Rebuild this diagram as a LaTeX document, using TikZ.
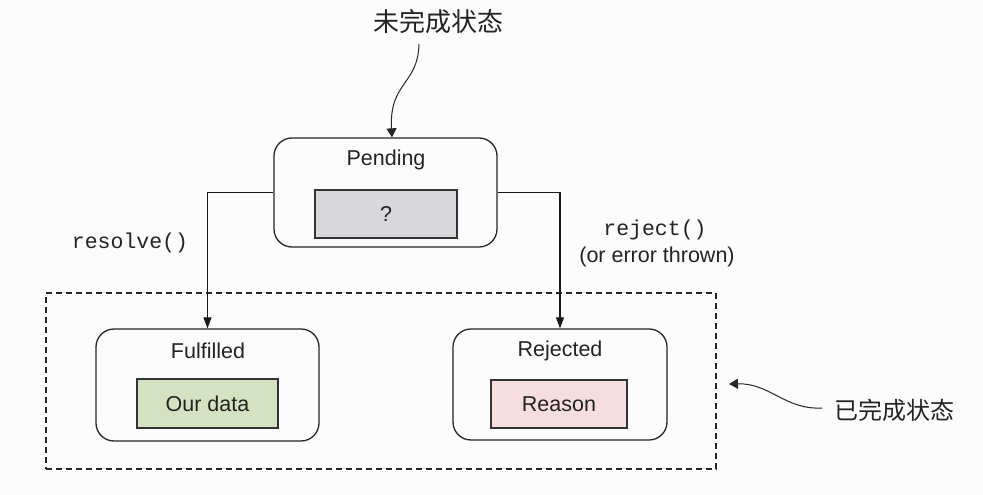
\documentclass[tikz,border=0pt]{standalone}
\usepackage{fontspec}
\setmainfont{Liberation Sans}
\setmonofont{Liberation Mono}
\newfontfamily\cjk{Noto Sans CJK SC}
\usetikzlibrary{arrows.meta}
\definecolor{bg}{RGB}{252,252,252}
\definecolor{txt}{RGB}{35,35,35}
\definecolor{grayfill}{RGB}{216,216,220}
\definecolor{greenfill}{RGB}{211,226,192}
\definecolor{pinkfill}{RGB}{246,222,222}
\tikzset{
  statebox/.style={draw=black!85, line width=1.3pt, rounded corners=18pt, inner sep=0pt},
  valbox/.style={draw=black!80, line width=1.3pt, inner sep=0pt, text=txt, font=\fontsize{21.5}{25}\selectfont},
  lbl/.style={text=txt, font=\fontsize{21.5}{25}\selectfont, inner sep=0pt},
  code/.style={text=txt, font=\ttfamily\fontsize{21.5}{25}\selectfont, inner sep=0pt},
  conn/.style={draw=black!90, line width=1.2pt, -{Triangle[length=11pt,width=8pt]}},
}
\begin{document}
\begin{tikzpicture}[x=1pt,y=-1pt]
\useasboundingbox[fill=bg] (0,0) rectangle (983,495);
% dashed settled region
\node[draw=black!85, line width=1.1pt, dash pattern=on 6pt off 4pt, minimum width=670pt, minimum height=176pt, inner sep=0pt] (settled) at (381,381) {};
% pending
\node[statebox, minimum width=223pt, minimum height=109pt] (pend) at (385.5,192.5) {};
\node[lbl] (pendl) at (386,160) {Pending};
\node[valbox, fill=grayfill, minimum width=142pt, minimum height=48pt] (pendv) at (386,214) {?};
% fulfilled
\node[statebox, minimum width=223pt, minimum height=112pt] (ful) at (207.5,385) {};
\node[lbl] (full) at (208,351) {Fulfilled};
\node[valbox, fill=greenfill, minimum width=141pt, minimum height=49pt] (fulv) at (207.5,403.5) {Our data};
% rejected
\node[statebox, minimum width=214pt, minimum height=111pt] (rej) at (560,384.5) {};
\node[lbl] (rejl) at (560,351) {Rejected};
\node[valbox, fill=pinkfill, minimum width=136pt, minimum height=48pt] (rejv) at (559,404) {Reason};
% connectors
\draw[conn] (pend.west) -| (ful.north);
\draw[conn] (pend.east) -| (rej.north);
% labels
\node[code] (res) at (130,243) {resolve()};
\node[code] (rejc) at (655,230) {reject()};
\node[lbl] (err) at (657,257) {(or error thrown)};
% titles
\node[text=txt, font=\cjk\fontsize{26}{30}\selectfont, inner sep=0pt] (pendt) at (438,22) {未完成状态};
\coordinate (pendt0) at (419,44);
\draw[draw=black!85, line width=1pt, -{Triangle[length=9pt,width=10pt]}] (pendt0) .. controls (418,85) and (389,82) .. (pend.north -| 392,0);
\node[text=txt, font=\cjk\fontsize{24}{28}\selectfont, inner sep=0pt, anchor=west] (donet) at (834,410) {已完成状态};
\coordinate (donet0) at (822,408);
\coordinate (donet1) at (729,384);
\draw[draw=black!85, line width=1pt, -{Triangle[length=9pt,width=10pt]}] (donet0) .. controls (785,410) and (770,383) .. (donet1);
\end{tikzpicture}
\end{document}
